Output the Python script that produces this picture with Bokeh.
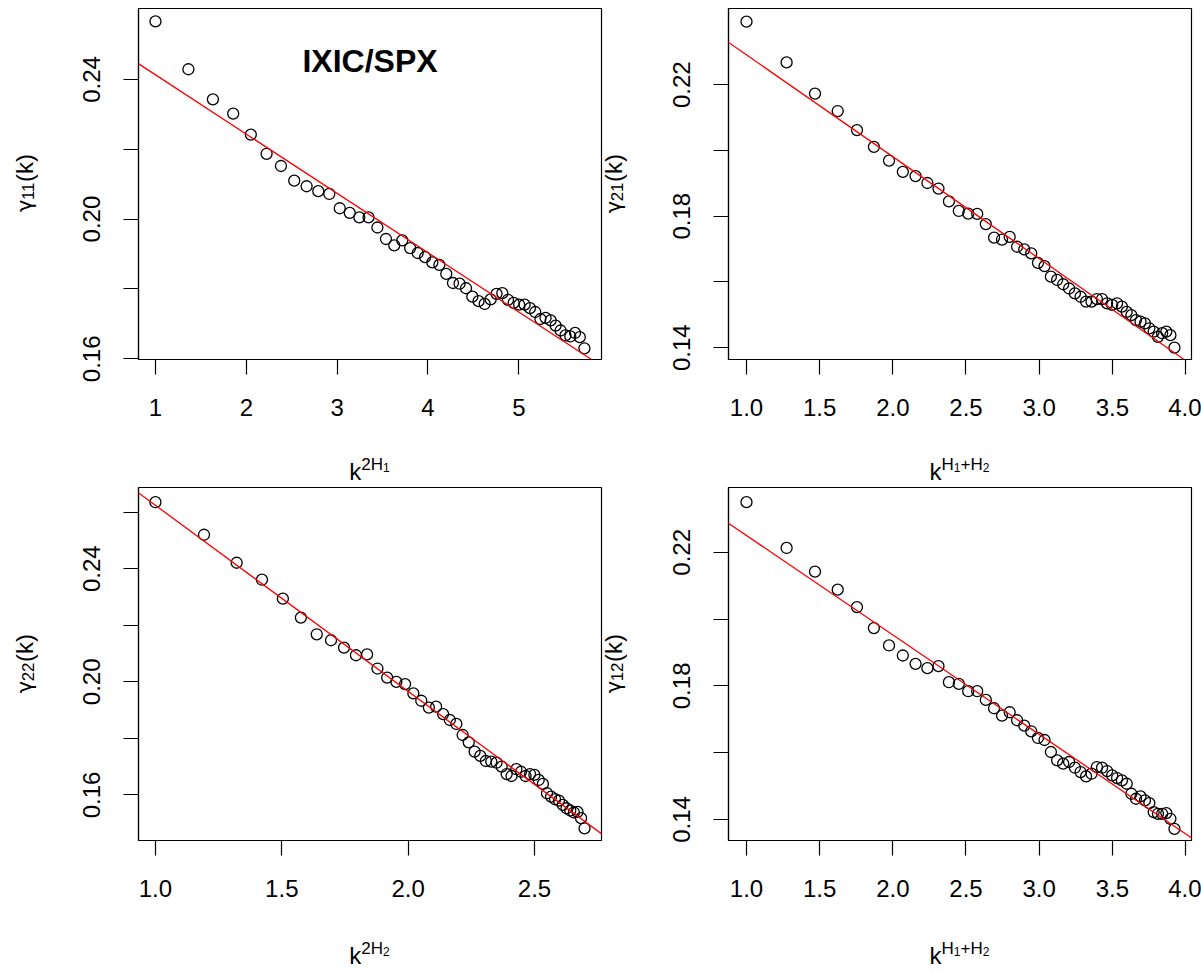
from bokeh.plotting import figure
from bokeh.models import Range1d, FixedTicker, Slope, Label, Div
from bokeh.layouts import column, row
from bokeh.embed import file_html
from bokeh.resources import INLINE

# ---------------- data ----------------
x_2h1 = [1.0, 1.3622, 1.6321, 1.8555, 2.0496, 2.2232, 2.3814, 2.5274, 2.6637, 2.7919,
         2.9131, 3.0284, 3.1383, 3.2439, 3.3453, 3.4429, 3.5371, 3.6285, 3.7170, 3.8030,
         3.8866, 3.9681, 4.0476, 4.1252, 4.2010, 4.2750, 4.3475, 4.4186, 4.4883, 4.5567,
         4.6238, 4.6897, 4.7545, 4.8182, 4.8807, 4.9425, 5.0033, 5.0632, 5.1223, 5.1804,
         5.2377, 5.2943, 5.3501, 5.4052, 5.4598, 5.5133, 5.5665, 5.6191, 5.6709, 5.7222]
x_h1h2 = [1.0, 1.2741, 1.4681, 1.6234, 1.7550, 1.8705, 1.9740, 2.0683, 2.1553, 2.2362,
          2.3119, 2.3833, 2.4508, 2.5152, 2.5766, 2.6354, 2.6918, 2.7461, 2.7985, 2.8491,
          2.8981, 2.9456, 2.9918, 3.0366, 3.0802, 3.1227, 3.1641, 3.2046, 3.2442, 3.2829,
          3.3207, 3.3577, 3.3941, 3.4297, 3.4645, 3.4988, 3.5325, 3.5656, 3.5982, 3.6301,
          3.6616, 3.6926, 3.7230, 3.7531, 3.7827, 3.8118, 3.8405, 3.8689, 3.8969, 3.9245]
x_2h2 = [1.0, 1.1922, 1.3214, 1.4215, 1.5043, 1.5755, 1.6383, 1.6948, 1.7462, 1.7935,
         1.8374, 1.8784, 1.9169, 1.9533, 1.9878, 2.0206, 2.0519, 2.0819, 2.1106, 2.1383,
         2.1649, 2.1906, 2.2155, 2.2396, 2.2629, 2.2855, 2.3074, 2.3289, 2.3497, 2.3700,
         2.3898, 2.4091, 2.4280, 2.4465, 2.4645, 2.4822, 2.4995, 2.5165, 2.5331, 2.5494,
         2.5655, 2.5812, 2.5966, 2.6118, 2.6268, 2.6414, 2.6559, 2.6701, 2.6841, 2.6979]

g11 = [0.2566, 0.2429, 0.2343, 0.2302, 0.2242, 0.2187, 0.2152, 0.2110, 0.2094, 0.2080,
       0.2072, 0.2031, 0.2018, 0.2005, 0.2005, 0.1976, 0.1943, 0.1925, 0.1939, 0.1917,
       0.1903, 0.1891, 0.1876, 0.1869, 0.1843, 0.1817, 0.1815, 0.1802, 0.1778, 0.1765,
       0.1757, 0.1770, 0.1786, 0.1788, 0.1769, 0.1760, 0.1755, 0.1755, 0.1745, 0.1734,
       0.1714, 0.1717, 0.1710, 0.1695, 0.1681, 0.1667, 0.1664, 0.1674, 0.1662, 0.1630]
g21 = [0.2392, 0.2268, 0.2173, 0.2120, 0.2062, 0.2011, 0.1969, 0.1935, 0.1922, 0.1901,
       0.1884, 0.1845, 0.1816, 0.1808, 0.1807, 0.1776, 0.1735, 0.1729, 0.1737, 0.1707,
       0.1699, 0.1687, 0.1658, 0.1648, 0.1616, 0.1606, 0.1593, 0.1580, 0.1565, 0.1555,
       0.1540, 0.1540, 0.1548, 0.1548, 0.1535, 0.1530, 0.1535, 0.1525, 0.1509, 0.1499,
       0.1484, 0.1479, 0.1474, 0.1459, 0.1449, 0.1433, 0.1444, 0.1449, 0.1438, 0.1400]
g22 = [0.2635, 0.2520, 0.2421, 0.2361, 0.2294, 0.2227, 0.2168, 0.2147, 0.2121, 0.2094,
       0.2097, 0.2047, 0.2015, 0.2000, 0.1992, 0.1959, 0.1933, 0.1909, 0.1912, 0.1886,
       0.1865, 0.1851, 0.1812, 0.1786, 0.1753, 0.1738, 0.1720, 0.1718, 0.1714, 0.1700,
       0.1674, 0.1667, 0.1691, 0.1682, 0.1667, 0.1674, 0.1671, 0.1653, 0.1639, 0.1606,
       0.1594, 0.1585, 0.1580, 0.1565, 0.1553, 0.1545, 0.1538, 0.1540, 0.1518, 0.1482]
g12 = [0.2350, 0.2213, 0.2142, 0.2088, 0.2036, 0.1973, 0.1921, 0.1891, 0.1866, 0.1853,
       0.1859, 0.1811, 0.1806, 0.1784, 0.1784, 0.1758, 0.1733, 0.1711, 0.1721, 0.1697,
       0.1681, 0.1664, 0.1644, 0.1638, 0.1602, 0.1577, 0.1567, 0.1572, 0.1555, 0.1542,
       0.1529, 0.1537, 0.1557, 0.1555, 0.1545, 0.1532, 0.1524, 0.1517, 0.1507, 0.1477,
       0.1462, 0.1469, 0.1457, 0.1449, 0.1422, 0.1417, 0.1417, 0.1419, 0.1402, 0.1372]

# fitted regression lines (intercept, slope) for panels 11, 21, 22, 12
fit_intercept = [0.2583, 0.2601, 0.3282, 0.2548]
fit_slope = [-0.01698, -0.0310, -0.06579, -0.02977]

# ticks and labels
xt_2h1 = [1, 2, 3, 4, 5]
xl_2h1 = ["1", "2", "3", "4", "5"]
xt_h = [1.0, 1.5, 2.0, 2.5, 3.0, 3.5, 4.0]
xl_h = ["1.0", "1.5", "2.0", "2.5", "3.0", "3.5", "4.0"]
xt_2h2 = [1.0, 1.5, 2.0, 2.5]
xl_2h2 = ["1.0", "1.5", "2.0", "2.5"]
yt_11 = [0.16, 0.18, 0.20, 0.22, 0.24]
yl_11 = ["0.16", "", "0.20", "", "0.24"]
yt_21 = [0.14, 0.16, 0.18, 0.20, 0.22]
yl_21 = ["0.14", "", "0.18", "", "0.22"]
yt_22 = [0.16, 0.18, 0.20, 0.22, 0.24, 0.26]
yl_22 = ["0.16", "", "0.20", "", "0.24", ""]
yt_12 = [0.14, 0.16, 0.18, 0.20, 0.22]
yl_12 = ["0.14", "", "0.18", "", "0.22"]

title_text = "IXIC/SPX"

FONT = "Liberation Sans"
FW = 463
NOMARGIN = (0, 0, 0, 0)


def panel(xs, ys, xr, yr, xt, xl, yt, yl, b, m, fh, left, right, top, bottom):
    p = figure(frame_width=FW, frame_height=fh,
               x_range=Range1d(*xr), y_range=Range1d(*yr),
               output_backend="svg", toolbar_location=None,
               min_border_left=left, min_border_right=right,
               min_border_top=top, min_border_bottom=bottom)
    p.grid.visible = False
    p.background_fill_color = "white"
    p.border_fill_color = "white"
    p.outline_line_color = "black"
    p.outline_line_width = 1.2
    p.outline_line_alpha = 1.0
    for ax, ticks, labels in ((p.xaxis[0], xt, xl), (p.yaxis[0], yt, yl)):
        ax.ticker = FixedTicker(ticks=ticks, minor_ticks=[])
        ax.major_label_overrides = {t: s for t, s in zip(ticks, labels)}
        ax.major_tick_out = 15
        ax.major_tick_in = 0
        ax.minor_tick_out = 0
        ax.minor_tick_in = 0
        ax.major_tick_line_color = "black"
        ax.major_tick_line_width = 1.2
        ax.axis_line_color = "black"
        ax.axis_line_width = 1.2
        ax.major_label_text_font = FONT
        ax.major_label_text_font_size = "24px"
        ax.major_label_text_color = "black"
    p.xaxis.major_label_standoff = 24
    p.yaxis.major_label_standoff = 23
    p.yaxis.major_label_orientation = "vertical"
    p.add_layout(Slope(gradient=m, y_intercept=b, line_color="red", line_width=1.3))
    p.scatter(xs, ys, marker="circle", size=11, fill_color=None,
              line_color="black", line_width=1.3)
    return p


def ylab_div(sub, width, pad_left, top, fh, height):
    html = (
        f'<div style="margin-top:{top}px;height:{fh}px;display:flex;align-items:center;'
        f'padding-left:{pad_left}px;font-family:\'{FONT}\';color:black;">'
        f'<span style="writing-mode:vertical-rl;transform:rotate(180deg);font-size:24px;'
        f'line-height:20px;white-space:nowrap;">'
        f'<span style="font-family:\'DejaVu Sans\';font-size:21px;">γ</span>'
        f'<span style="font-size:17px;position:relative;left:-4px;">{sub}</span>(k)'
        f'</span></div>'
    )
    return Div(text=html, width=width, height=height, margin=NOMARGIN)


def sup(t):
    return f'<span style="font-size:17px;position:relative;top:-10px;">{t}</span>'


def subsub(t):
    return f'<span style="font-size:12px;position:relative;top:2px;">{t}</span>'


def xlab_div(inner, frame_left, width, pad_top):
    html = (
        f'<div style="margin-left:{frame_left}px;width:{FW}px;text-align:center;'
        f'font-family:\'{FONT}\';font-size:24px;line-height:24px;padding-top:{pad_top}px;'
        f'color:black;white-space:nowrap;">{inner}</div>'
    )
    return Div(text=html, width=width, height=40, margin=NOMARGIN)


lab_2h1 = "k" + sup("2H" + subsub("1"))
lab_2h2 = "k" + sup("2H" + subsub("2"))
lab_h1h2 = "k" + sup("H" + subsub("1") + "+H" + subsub("2"))

# left panels: frame at x=138 (strip 0..50, figure 50..603)
# right panels: frame at x=728 (strip 603..653, figure 653..1201)
p1 = panel(x_2h1, g11, (0.813, 5.910), (0.1598, 0.2603), xt_2h1, xl_2h1, yt_11, yl_11,
           fit_intercept[0], fit_slope[0], 351, 88, 2, 8, 81)
p2 = panel(x_h1h2, g21, (0.877, 4.041), (0.1364, 0.2432), xt_h, xl_h, yt_21, yl_21,
           fit_intercept[1], fit_slope[1], 351, 75, 10, 8, 81)
p3 = panel(x_2h2, g22, (0.933, 2.765), (0.1439, 0.2687), xt_2h2, xl_2h2, yt_22, yl_22,
           fit_intercept[2], fit_slope[2], 353, 88, 2, 7, 92)
p4 = panel(x_h1h2, g12, (0.877, 4.041), (0.1337, 0.2394), xt_h, xl_h, yt_12, yl_12,
           fit_intercept[3], fit_slope[3], 353, 75, 10, 7, 92)

p1.add_layout(Label(x=FW / 2, y=299, x_units="screen", y_units="screen", text=title_text,
                    text_font=FONT, text_font_size="32px", text_font_style="bold",
                    text_align="center", text_baseline="alphabetic", text_color="black"))

top_row = row(ylab_div("11", 50, 15, 8, 351, 440), p1,
              ylab_div("21", 50, 1, 8, 351, 440), p2)
top_lab = row(xlab_div(lab_2h1, 138, 603, 20), xlab_div(lab_h1h2, 125, 598, 20))
bot_row = row(ylab_div("22", 50, 15, 7, 353, 452), p3,
              ylab_div("12", 50, 1, 7, 353, 452), p4)
bot_lab = row(xlab_div(lab_2h2, 138, 603, 12), xlab_div(lab_h1h2, 125, 598, 12))

layout = column(top_row, top_lab, bot_row, bot_lab)
open("out.html", "w").write(file_html(layout, INLINE))
